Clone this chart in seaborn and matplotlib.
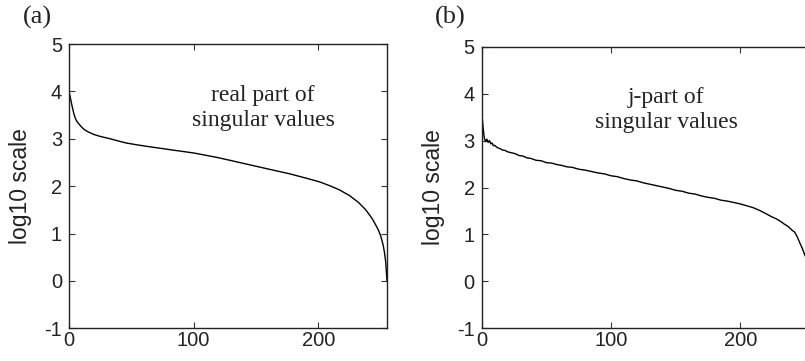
import matplotlib
matplotlib.use("Agg")
import matplotlib.pyplot as plt
import seaborn as sns

# singular value curves (log10 scale)
r_idx = [0, 1, 2, 3, 4, 5, 6, 8, 10, 12, 15, 20, 25, 33, 40, 46, 55, 65, 81, 100,
         118, 130, 145, 160, 177, 190, 201, 210, 217, 225, 232, 238, 243, 246, 248, 250, 252, 253, 254, 255]
r_val = [4.00, 3.88, 3.75, 3.63, 3.52, 3.44, 3.38, 3.31, 3.25, 3.20, 3.15, 3.09, 3.05, 3.00, 2.95, 2.91, 2.87, 2.83, 2.77, 2.70,
         2.61, 2.54, 2.45, 2.36, 2.26, 2.17, 2.09, 2.00, 1.92, 1.80, 1.66, 1.50, 1.32, 1.18, 1.08, 0.95, 0.75, 0.60, 0.40, 0.00]

j_idx = [0, 1, 2, 3, 4, 5, 6, 7, 8, 9, 10, 12, 14, 16, 18, 20, 23, 26, 29, 32, 35, 38, 42, 46, 50,
         54, 58, 62, 66, 70, 75, 80, 85, 90, 95, 100, 105, 110, 115, 120, 125, 130, 135, 140, 145,
         150, 155, 160, 165, 170, 175, 180, 185, 190, 195, 200, 205, 210, 215, 220, 224, 228, 231,
         234, 237, 240, 242, 244, 246, 248, 250, 252, 254, 255]
j_val = [3.62, 3.30, 3.05, 2.98, 3.03, 2.96, 3.00, 2.93, 2.95, 2.89, 2.90, 2.85, 2.83, 2.80, 2.79, 2.76, 2.74, 2.72, 2.68, 2.67, 2.63, 2.62, 2.58, 2.57, 2.53,
         2.52, 2.49, 2.47, 2.44, 2.43, 2.39, 2.37, 2.34, 2.31, 2.29, 2.25, 2.23, 2.19, 2.16, 2.14, 2.10, 2.07, 2.04, 2.01, 1.98,
         1.94, 1.92, 1.88, 1.86, 1.82, 1.79, 1.77, 1.73, 1.71, 1.68, 1.65, 1.61, 1.57, 1.51, 1.44, 1.38, 1.33, 1.28,
         1.22, 1.17, 1.09, 1.05, 0.95, 0.82, 0.70, 0.55, 0.45, 0.33, 0.28]

xticks = [0, 100, 200]
yticks = [-1, 0, 1, 2, 3, 4, 5]

sns.set_style("ticks")
plt.rcParams['font.family'] = ['Liberation Sans', 'DejaVu Sans']
plt.rcParams['xtick.direction'] = 'in'
plt.rcParams['ytick.direction'] = 'in'
plt.rcParams['axes.unicode_minus'] = False

fig = plt.figure(figsize=(8.05, 3.61), dpi=100)
ax1 = fig.add_axes([0.0857, 0.0906, 0.3950, 0.7875])
ax2 = fig.add_axes([0.5984, 0.0906, 0.4096, 0.7800])

serif = ['Liberation Serif', 'DejaVu Serif']
panels = [
    (ax1, r_idx, r_val, "real part of\nsingular values", 0.61, "(a)", 0.047),
    (ax2, j_idx, j_val, "j-part of\nsingular values", 0.56, "(b)", 0.559),
]

for ax, xs, ys, note, note_x, tag, tag_x in panels:
    sns.lineplot(x=xs, y=ys, ax=ax, color='black', linewidth=1.0, sort=False)
    ax.set_xlim(0, 255)
    ax.set_ylim(-1, 5)
    ax.set_xticks(xticks)
    ax.set_yticks(yticks)
    ax.tick_params(axis='both', labelsize=14.5, length=4, width=0.8, color='#333333',
                   labelcolor='#222222', top=True, right=True)
    ax.tick_params(axis='y', pad=5)
    ax.tick_params(axis='x', pad=2)
    for sp in ax.spines.values():
        sp.set_linewidth(1.0)
        sp.set_color('#222222')
    ax.set_ylabel("log10 scale", fontsize=16.5, labelpad=9, color='#222222')
    ax.text(note_x, 0.775, note, transform=ax.transAxes, ha='center', va='center',
            family=serif, fontsize=17, linespacing=1.25, color='#222222')
    fig.text(tag_x, 0.953, tag, ha='center', va='center', family=serif, fontsize=19,
             color='#222222')

fig.savefig("out.png", dpi=100)
